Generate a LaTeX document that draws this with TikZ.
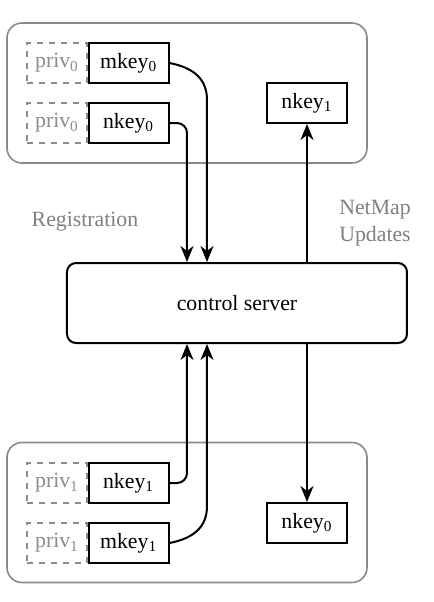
\documentclass[tikz,border=0pt]{standalone}
\usepackage{fontspec}
\setmainfont{Liberation Serif}
\usetikzlibrary{positioning,arrows.meta}
\definecolor{framegray}{HTML}{8A8A8A}
\definecolor{privgray}{HTML}{8C8C8C}
\definecolor{labelgray}{HTML}{808080}
\newcommand{\ksub}[1]{\textsubscript{#1}}
\tikzset{
	keybox/.style={draw, line width=1pt, fill=white, minimum width=40pt, minimum height=20pt, inner sep=0pt},
	privbox/.style={draw=privgray, dashed, line width=0.6pt, text=privgray, minimum width=30pt, minimum height=20pt, inner sep=0pt},
	hostbox/.style={draw=framegray, line width=0.8pt, rounded corners=7.5pt, minimum width=180pt, minimum height=70pt},
	serverbox/.style={draw, line width=1pt, rounded corners=4.5pt, minimum width=170pt, minimum height=40pt},
	flow/.style={line width=1pt, -{Stealth[length=8pt,width=6.5pt,inset=2.5pt]}},
	note/.style={text=labelgray, align=center}
}

\begin{document}
\begin{tikzpicture}[x=0.5pt, y=-0.5pt, font=\fontsize{10.9}{13.5}\selectfont]
	\useasboundingbox (0,0) rectangle (434,602);

	% hosts and server
	\node[hostbox] (hostA) at (187,93) {};
	\node[hostbox] (hostB) at (187,512.5) {};
	\node[serverbox] (server) at (237,303) {control server};

	% host A
	\node[privbox] (privA1) at (57,63) {priv\ksub{0}};
	\node[keybox, right=0pt of privA1] (mkeyA) {mkey\ksub{0}};
	\node[privbox] (privA2) at (57,123) {priv\ksub{0}};
	\node[keybox, right=0pt of privA2] (nkeyA) {nkey\ksub{0}};
	\node[keybox] (peerA) at (307,103) {nkey\ksub{1}};

	% host B
	\node[privbox] (privB1) at (57,483) {priv\ksub{1}};
	\node[keybox, right=0pt of privB1] (nkeyB) {nkey\ksub{1}};
	\node[privbox] (privB2) at (57,543) {priv\ksub{1}};
	\node[keybox, right=0pt of privB2] (mkeyB) {mkey\ksub{1}};
	\node[keybox] (peerB) at (307,523) {nkey\ksub{0}};

	% labels
	\node[note] (reg) at (85,222) {Registration};
	\node[note] (netmap) at (375,223) {NetMap\\Updates};

	% columns of the connectors
	\coordinate (colA) at (187,0);
	\coordinate (colB) at (207,0);
	\coordinate (colC) at (307,0);
	\coordinate (bendA) at (207,100);
	\coordinate (bendB) at (207,506);

	% registration
	\draw[flow, rounded corners=5pt] (nkeyA.east) -| (colA |- server.north);
	\draw[flow] (mkeyA.east) .. controls (195,68) and (207,80) .. (bendA) -- (colB |- server.north);
	\draw[flow, rounded corners=5pt] (nkeyB.east) -| (colA |- server.south);
	\draw[flow] (mkeyB.east) .. controls (195,538) and (207,526) .. (bendB) -- (colB |- server.south);

	% netmap updates
	\draw[flow] (colC |- server.north) -- (peerA.south);
	\draw[flow] (colC |- server.south) -- (peerB.north);
\end{tikzpicture}
\end{document}
